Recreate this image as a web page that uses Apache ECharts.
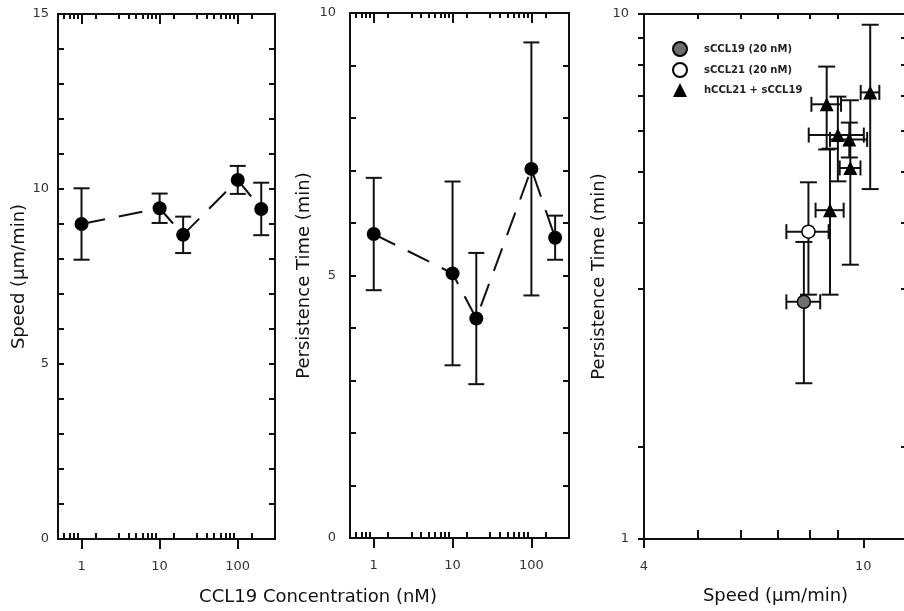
<!DOCTYPE html>
<html>
<head>
<meta charset="utf-8">
<script src="https://cdn.jsdelivr.net/npm/echarts@6/dist/echarts.min.js"></script>
<style>
  html, body { margin: 0; padding: 0; background: #fff; }
  #chart { width: 904px; height: 611px; }
</style>
</head>
<body>
<div id="chart"></div>
<script>
// CCL19 dose response (mean and error for each concentration, nM)
const concentrations = [1, 10, 20, 100, 200];
const speedMean = [9.0, 9.45, 8.69, 10.26, 9.43];
const speedErr = [1.02, 0.42, 0.52, 0.40, 0.75];
const persistenceMean = [5.79, 5.04, 4.18, 7.03, 5.72];
const persistenceErr = [1.07, 1.75, 1.25, 2.41, 0.42];

// Persistence time against speed for each chemokine condition
const groupNames = ['sCCL19 (20 nM)', 'sCCL21 (20 nM)', 'hCCL21 + sCCL19'];
const sCCL19Speed = [7.80];
const sCCL19SpeedErr = [0.55];
const sCCL19Persistence = [2.83];
const sCCL19PersistenceErr = [0.85];
const sCCL21Speed = [7.95];
const sCCL21SpeedErr = [0.70];
const sCCL21Persistence = [3.85];
const sCCL21PersistenceErr = [0.93];
const comboSpeed = [8.58, 8.99, 9.43, 9.47, 8.70, 10.29];
const comboSpeedErr = [0.53, 1.03, 0.73, 0.41, 0.51, 0.40];
const comboPersistence = [6.73, 5.88, 5.77, 5.09, 4.23, 7.09];
const comboPersistenceErr = [1.21, 1.08, 0.44, 1.76, 1.31, 2.45];

// Tick positions and labels
const concMajorTicks = [1, 10, 100];
const concMinorTicks = [0.6, 0.7, 0.8, 0.9, 1.5, 3, 4, 5, 6, 7, 8, 9, 15, 30, 40, 50, 60, 70, 80, 90, 150];
const speedTicks = [0, 1, 2, 3, 4, 5, 6, 7, 8, 9, 10, 11, 12, 13, 14, 15];
const speedLabels = [0, 5, 10, 15];
const persistenceTicks = [0, 1, 2, 3, 4, 5, 6, 7, 8, 9, 10];
const persistenceLabels = [0, 5, 10];
const scatterSpeedMajor = [4, 10];
const scatterSpeedMinor = [5, 6, 7, 8, 9];
const scatterPersistenceTicks = [1, 1.5, 3, 4, 5, 6, 7, 8, 9, 10];
const scatterPersistenceLabels = [1, 10];

const FONT = "'DejaVu Sans', sans-serif";
const INK = '#111';
const LABEL = '#333';

function zip(xs, ys, exs, eys) {
  return xs.map((x, i) => [x, ys[i], exs ? exs[i] : 0, eys[i]]);
}

function axis(gridIndex, type, min, max, position, tickValues, tickLen, inside, extra) {
  const a = {
    type: type, gridIndex: gridIndex, min: min, max: max, position: position,
    axisLine: { show: true, onZero: false, lineStyle: { color: INK, width: 2 } },
    axisTick: { show: true, inside: inside, length: tickLen, customValues: tickValues,
                lineStyle: { color: INK, width: 2 } },
    axisLabel: { show: false },
    splitLine: { show: false },
    minorTick: { show: false },
    minorSplitLine: { show: false }
  };
  if (type === 'log') a.logBase = 10;
  return Object.assign(a, extra || {});
}

function labels(values, margin) {
  return { axisLabel: { show: true, customValues: values, margin: margin,
                        fontFamily: FONT, fontSize: 13, color: LABEL } };
}

function yName(text, gap) {
  return { name: text, nameLocation: 'middle', nameGap: gap,
           nameTextStyle: { fontFamily: FONT, fontSize: 18, color: INK } };
}

// Draws vertical (and optionally horizontal) error bars with end caps
function errorBars(capY, capX) {
  return function (params, api) {
    const x = api.value(0), y = api.value(1), ex = api.value(2), ey = api.value(3);
    const style = { stroke: INK, lineWidth: 2, fill: null };
    const kids = [];
    if (ey > 0) {
      const t = api.coord([x, y + ey]);
      const b = api.coord([x, y - ey]);
      kids.push({ type: 'line', shape: { x1: t[0], y1: t[1], x2: b[0], y2: b[1] }, style: style });
      kids.push({ type: 'line', shape: { x1: t[0] - capY, y1: t[1], x2: t[0] + capY, y2: t[1] }, style: style });
      kids.push({ type: 'line', shape: { x1: b[0] - capY, y1: b[1], x2: b[0] + capY, y2: b[1] }, style: style });
    }
    if (ex > 0) {
      const l = api.coord([x - ex, y]);
      const r = api.coord([x + ex, y]);
      kids.push({ type: 'line', shape: { x1: l[0], y1: l[1], x2: r[0], y2: r[1] }, style: style });
      kids.push({ type: 'line', shape: { x1: l[0], y1: l[1] - capX, x2: l[0], y2: l[1] + capX }, style: style });
      kids.push({ type: 'line', shape: { x1: r[0], y1: r[1] - capX, x2: r[0], y2: r[1] + capX }, style: style });
    }
    return { type: 'group', children: kids };
  };
}

const chart = echarts.init(document.getElementById('chart'), null, { renderer: 'canvas' });

const option = {
  animation: false,
  backgroundColor: '#fff',
  grid: [
    { left: 58, top: 14, width: 217, height: 525, outerBoundsMode: 'none' },
    { left: 350, top: 13, width: 219, height: 525, outerBoundsMode: 'none' },
    { left: 644, top: 14, width: 263, height: 525, outerBoundsMode: 'none' }
  ],
  xAxis: [
    axis(0, 'log', 0.5, 300, 'bottom', concMajorTicks, 10, false, labels(concMajorTicks, 21)),
    axis(0, 'log', 0.5, 300, 'bottom', concMinorTicks, 6, true),
    axis(0, 'log', 0.5, 300, 'top', concMajorTicks, 10, true),
    axis(0, 'log', 0.5, 300, 'top', concMinorTicks, 5, true),
    axis(1, 'log', 0.5, 300, 'bottom', concMajorTicks, 10, false, labels(concMajorTicks, 21)),
    axis(1, 'log', 0.5, 300, 'bottom', concMinorTicks, 6, true),
    axis(1, 'log', 0.5, 300, 'top', concMajorTicks, 10, true),
    axis(1, 'log', 0.5, 300, 'top', concMinorTicks, 5, true),
    axis(2, 'log', 4, 12, 'bottom', scatterSpeedMajor, 9, false,
      Object.assign(labels(scatterSpeedMajor, 21), {
        name: 'Speed (\u03bcm/min)', nameLocation: 'middle', nameGap: 48,
        nameTextStyle: { fontFamily: FONT, fontSize: 18, color: INK }
      })),
    axis(2, 'log', 4, 12, 'bottom', scatterSpeedMinor, 9, true),
    axis(2, 'log', 4, 12, 'top', scatterSpeedMinor, 5, true)
  ],
  yAxis: [
    axis(0, 'value', 0, 15, 'left', speedTicks, 6, true,
      Object.assign(labels(speedLabels, 9), yName('Speed (\u03bcm/min)', 26))),
    axis(0, 'value', 0, 15, 'right', speedTicks, 6, true),
    axis(1, 'value', 0, 10, 'left', persistenceTicks, 6, true,
      Object.assign(labels(persistenceLabels, 14), yName('Persistence Time (min)', 37))),
    axis(1, 'value', 0, 10, 'right', persistenceTicks, 6, true),
    axis(2, 'log', 1, 10, 'left', scatterPersistenceTicks, 6, false,
      Object.assign(labels(scatterPersistenceLabels, 15), yName('Persistence Time (min)', 31))),
    axis(2, 'log', 1, 10, 'right', scatterPersistenceTicks, 6, true)
  ],
  legend: {
    data: groupNames,
    orient: 'vertical',
    left: 667,
    top: 36,
    itemWidth: 14,
    itemHeight: 14,
    itemGap: 5,
    selectedMode: false,
    formatter: '{gap| }{name}',
    textStyle: { fontFamily: FONT, fontSize: 10, fontWeight: 'bold', color: '#222',
                 rich: { gap: { width: 12 } } }
  },
  graphic: [
    { type: 'text', x: 318, y: 597,
      style: { text: 'CCL19 Concentration (nM)', font: "18px 'DejaVu Sans', sans-serif",
               fill: INK, textAlign: 'center', textVerticalAlign: 'middle' } }
  ],
  series: [
    { type: 'custom', xAxisIndex: 0, yAxisIndex: 0, z: 2,
      renderItem: errorBars(8, 0), encode: { x: 0, y: 1 },
      data: zip(concentrations, speedMean, null, speedErr) },
    { type: 'line', xAxisIndex: 0, yAxisIndex: 0, z: 3,
      data: concentrations.map((c, i) => [c, speedMean[i]]),
      symbol: 'circle', symbolSize: 14, showSymbol: true,
      itemStyle: { color: '#000' },
      lineStyle: { color: INK, width: 2, type: [24, 14] } },
    { type: 'custom', xAxisIndex: 4, yAxisIndex: 2, z: 2,
      renderItem: errorBars(8, 0), encode: { x: 0, y: 1 },
      data: zip(concentrations, persistenceMean, null, persistenceErr) },
    { type: 'line', xAxisIndex: 4, yAxisIndex: 2, z: 3,
      data: concentrations.map((c, i) => [c, persistenceMean[i]]),
      symbol: 'circle', symbolSize: 14, showSymbol: true,
      itemStyle: { color: '#000' },
      lineStyle: { color: INK, width: 2, type: [24, 14] } },
    { type: 'custom', xAxisIndex: 8, yAxisIndex: 4, z: 2,
      renderItem: errorBars(8.5, 7.5), encode: { x: 0, y: 1 },
      data: zip(sCCL19Speed, sCCL19Persistence, sCCL19SpeedErr, sCCL19PersistenceErr)
        .concat(zip(sCCL21Speed, sCCL21Persistence, sCCL21SpeedErr, sCCL21PersistenceErr))
        .concat(zip(comboSpeed, comboPersistence, comboSpeedErr, comboPersistenceErr)) },
    { type: 'scatter', name: groupNames[0], xAxisIndex: 8, yAxisIndex: 4, z: 3,
      symbol: 'circle', symbolSize: 13,
      itemStyle: { color: '#6e6e6e', borderColor: '#000', borderWidth: 1.5, opacity: 1 },
      data: sCCL19Speed.map((s, i) => [s, sCCL19Persistence[i]]) },
    { type: 'scatter', name: groupNames[1], xAxisIndex: 8, yAxisIndex: 4, z: 4,
      symbol: 'circle', symbolSize: 13,
      itemStyle: { color: '#fff', borderColor: '#000', borderWidth: 1.5, opacity: 1 },
      data: sCCL21Speed.map((s, i) => [s, sCCL21Persistence[i]]) },
    { type: 'scatter', name: groupNames[2], xAxisIndex: 8, yAxisIndex: 4, z: 4,
      symbol: 'triangle', symbolSize: 14,
      itemStyle: { color: '#000', opacity: 1 },
      data: comboSpeed.map((s, i) => [s, comboPersistence[i]]) }
  ]
};

chart.setOption(option);
</script>
</body>
</html>
